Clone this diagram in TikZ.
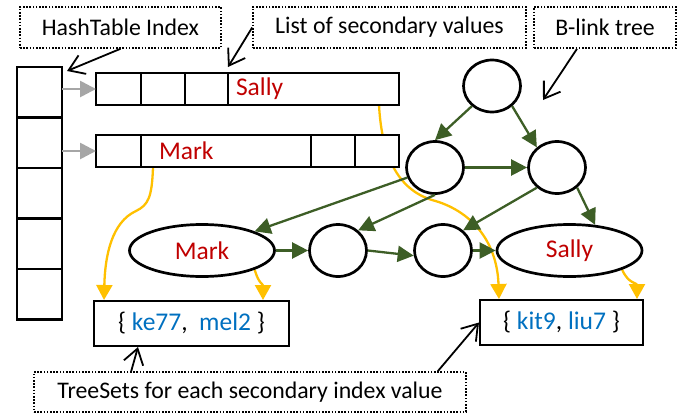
\documentclass[tikz,border=0pt]{standalone}
\usepackage{fontspec}
\setmainfont{Carlito}
\usetikzlibrary{arrows.meta,shapes.geometric,calc,backgrounds}

\definecolor{treegreen}{HTML}{3D5E26}
\definecolor{linkyellow}{HTML}{FFC000}
\definecolor{namered}{HTML}{C00000}
\definecolor{idblue}{HTML}{0070C0}
\definecolor{ptrgray}{HTML}{A6A6A6}

\tikzset{
  cell/.style={draw, fill=white, line width=2.7pt, rectangle, inner sep=0pt, outer sep=0pt, minimum height=32},
  namecell/.style={cell, align=left, text=namered, font=\fontsize{25.5}{30}\selectfont},
  tnode/.style={draw, fill=white, line width=2.7pt, ellipse, inner sep=0pt, minimum width=57, minimum height=52},
  keynode/.style={tnode, minimum width=145, text=namered, font=\fontsize{25.5}{30}\selectfont},
  setbox/.style={draw, line width=2pt, rectangle, minimum height=45, inner sep=0pt, font=\fontsize{25.5}{30}\selectfont},
  notebox/.style={draw, line width=1.6pt, dash pattern=on 1.6pt off 1.6pt, minimum height=41, inner sep=0pt},
  tlink/.style={treegreen, line width=2.3pt, -{Triangle[length=16pt,width=16pt]}},
  ylink/.style={linkyellow, line width=2.3pt, -{Triangle[length=15pt,width=16pt]}},
  hlink/.style={ptrgray, line width=2.7pt, -{Triangle[length=16pt,width=16pt]}},
  pointer/.style={black, line width=1.8pt, -{Straight Barb[length=15pt,width=20pt]}},
}

\begin{document}
\begin{tikzpicture}[x=1pt, y=-1pt, font=\fontsize{23.8}{28}\selectfont]
  \useasboundingbox (0,0) rectangle (691,415);

  % hash table
  \foreach \i in {1,...,5}
    \node[cell, minimum width=45, minimum height=50.5] (h\i) at (39.5, 41.75+50.5*\i) {};

  % lists of secondary values
  \node[cell, minimum width=45] (r1a) at (118.5,89) {};
  \node[cell, minimum width=44] (r1b) at (163,89) {};
  \node[cell, minimum width=43] (r1c) at (206.5,89) {};
  \node[namecell, minimum width=171, inner xsep=8pt, text width=155pt] (r1d) at (313.5,89) {Sally};
  \node[cell, minimum width=45] (r2a) at (118.5,151) {};
  \node[namecell, minimum width=170, inner xsep=18pt, text width=134pt] (r2b) at (226,151) {Mark};
  \node[cell, minimum width=44] (r2c) at (333,151) {};
  \node[cell, minimum width=44] (r2d) at (377,151) {};

  \draw[hlink] (r1a.west -| h1.east) -- (r1a.west);
  \draw[hlink] (r2a.west -| h2.east) -- (r2a.west);

  % b-link tree
  \node[tnode] (top) at (492,86) {};
  \node[tnode] (midL) at (435,167.5) {};
  \node[tnode] (midR) at (557,167.5) {};
  \node[keynode] (mark) at (202,250.5) {Mark};
  \node[tnode] (c1) at (338,250.5) {};
  \node[tnode] (c2) at (443,250.5) {};
  \node[keynode] (sally) at (569.5,250.5) {Sally};

  \draw[tlink] (top.225) -- (midL.north);
  \draw[tlink] (top.-45) -- (midR.135);
  \draw[tlink] (midL) -- (midR);
  \draw[tlink] (midL.200) -- (mark.20);
  \draw[tlink] (midL.south) -- (c1.45);
  \draw[tlink] (midR.225) -- (c2.45);
  \draw[tlink] (midR.-45) -- (sally.45);
  \draw[tlink] (mark) -- (c1);
  \draw[tlink] (c1.east) -- (c2.190);
  \draw[tlink] (c2) -- (sally);

  % tree sets
  \node[setbox, minimum width=195] (setL) at (191.5,323.5)
    {\{ \textcolor{idblue}{ke77},\ \ \textcolor{idblue}{mel2} \}};
  \node[setbox, minimum width=163] (setR) at (561.5,322.5)
    {\{ \textcolor{idblue}{kit9}, \textcolor{idblue}{liu7} \}};

  \begin{scope}[on background layer]
    \coordinate (yl0) at ($(r2b.south west)+(12,0)$);
    \coordinate (yl1) at ($(setL.north west)+(11,0)$);
    \coordinate (yl2) at ($(setL.north east)+(-27,0)$);
    \coordinate (yr0) at ($(r1d.south east)+(-20,0)$);
    \coordinate (yr1) at ($(setR.north west)+(20,0)$);
    \coordinate (yr2) at ($(setR.north east)+(-7,0)$);
    \draw[ylink] (yl0) .. controls (152,198) and (148,205) .. (136,211)
      .. controls (112,222) and (105,255) .. (yl1);
    \draw[ylink] (mark.-20) .. controls +(4,14) and +(0,-16) .. (yl2);
    \draw[ylink] (yr0) .. controls (382,160) and (400,190) .. (432,200)
      .. controls (470,210) and (497,240) .. (yr1);
    \draw[ylink] (sally.-20) .. controls +(6,14) and +(0,-16) .. (yr2);
  \end{scope}

  % labels
  \node[notebox, minimum width=201] (nHash) at (120.5,27.5) {HashTable Index};
  \node[notebox, minimum width=273] (nList) at (389.5,27.5) {List of secondary values};
  \node[notebox, minimum width=142] (nTree) at (605,27.5) {B-link tree};
  \node[notebox, minimum width=432, minimum height=40] (nSets) at (250,392)
    {TreeSets for each secondary index value};
  \coordinate (treeTip) at (543,100);

  \draw[pointer] (nHash.south) -- ($(h1.north east)+(5,4)$);
  \draw[pointer] (nList.west) -- ($(r1c.north east)+(0,-6)$);
  \draw[pointer] ($(nTree.south)+(-28,0)$) -- (treeTip);
  \draw[pointer] ($(nSets.north west)+(98,0)$) -- ($(setL.south west)+(45,0)$);
  \draw[pointer] ($(nSets.north east)+(-29,0)$) -- (setR.west);
\end{tikzpicture}
\end{document}
